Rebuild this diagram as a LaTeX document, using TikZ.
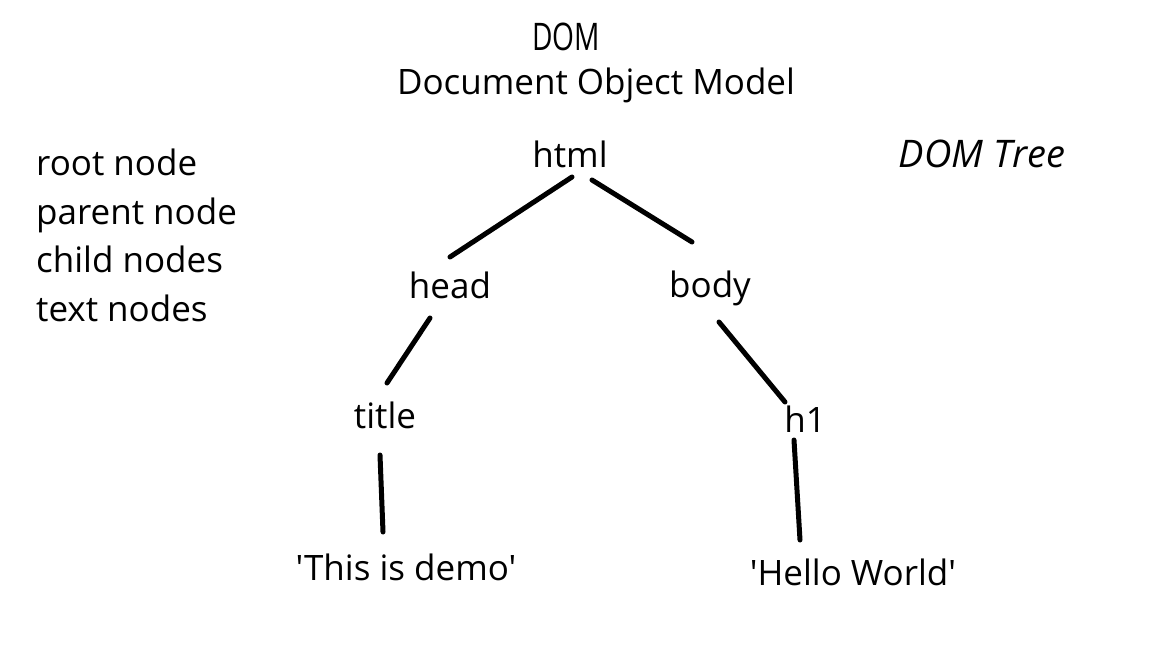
\documentclass[tikz,border=0pt]{standalone}
\usepackage{fontspec}
\setmainfont{Open Sans}[Ligatures=TeXOff]
\usepackage{graphicx}
\begin{document}
\begin{tikzpicture}[x=1pt,y=-1pt,
  lbl/.style={font=\fontsize{35}{42}\selectfont, inner sep=0pt, anchor=base},
  lst/.style={font=\fontsize{35}{42}\selectfont, inner sep=0pt, anchor=base west},
  link/.style={line width=5pt, line cap=round, black}]
\useasboundingbox[fill=white] (0,0) rectangle (1152,648);
% titles
\node[lbl, font=\fontsize{38}{44}\selectfont] (dom) at (566,50) {\scalebox{0.74}[1]{DOM}};
\node[lbl] (dommodel) at (596,94) {Document Object Model};
\node[lbl, font=\fontsize{38}{44}\selectfont\itshape] (domtree) at (982,167) {DOM Tree};
% legend
\node[lst] (l1) at (36,175) {root node};
\node[lst] (l2) at (36,224) {parent node};
\node[lst] (l3) at (36,272) {child nodes};
\node[lst] (l4) at (36,321) {text nodes};
% tree nodes
\node[lbl] (html) at (570,167) {html};
\node[lbl] (head) at (450,298) {head};
\node[lbl] (body) at (710,297) {body};
\node[lbl] (title) at (385,428) {title};
\node[lbl] (h1) at (805,432) {h1};
\node[lbl] (demo) at (406,580) {'This is demo'};
\node[lbl] (hello) at (853,585) {'Hello World'};
% connectors
\draw[link] ([shift={(2,10)}]html.base) -- ([shift={(0,-41)}]head.base);
\draw[link] ([shift={(22,13)}]html.base) -- ([shift={(-18,-55)}]body.base);
\draw[link] ([shift={(-20,20)}]head.base) -- ([shift={(2,-45)}]title.base);
\draw[link] ([shift={(9,25)}]body.base) -- ([shift={(-20,-30)}]h1.base);
\draw[link] ([shift={(-5,27)}]title.base) -- ([shift={(-23,-48)}]demo.base);
\draw[link] ([shift={(-11,8)}]h1.base) -- ([shift={(-53,-45)}]hello.base);
\end{tikzpicture}
\end{document}
